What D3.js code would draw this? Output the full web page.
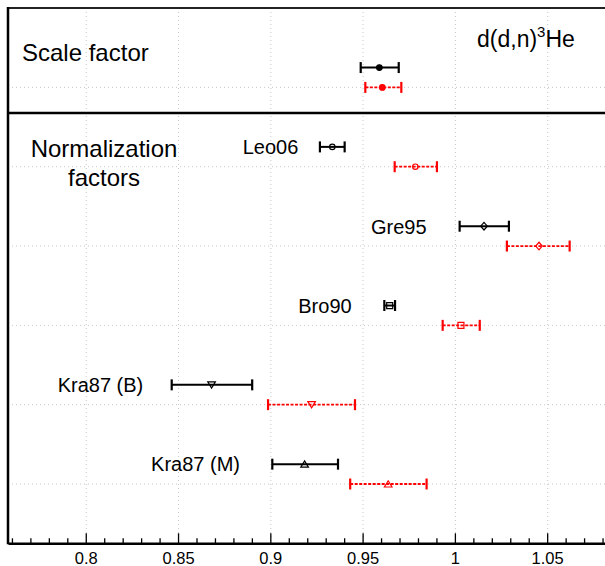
<!DOCTYPE html>
<html>
<head>
<meta charset="utf-8">
<script src="https://cdn.jsdelivr.net/npm/d3@7/dist/d3.min.js"></script>
<style>
  html, body { margin: 0; padding: 0; background: #fff; }
  svg { display: block; font-family: "Liberation Sans", Arial, Helvetica, sans-serif; }
</style>
</head>
<body>
<svg id="chart" width="605" height="566"></svg>
<script>
// ---------------- data ----------------
const categories = ["Leo06", "Gre95", "Bro90", "Kra87 (B)", "Kra87 (M)"];
const markerShapes = ["circle", "diamond", "square", "triangleDown", "triangleUp"];
const blackVal = [0.9333, 1.0155, 0.9644, 0.8679, 0.9183];
const blackLo  = [0.9266, 1.0023, 0.9615, 0.8463, 0.9008];
const blackHi  = [0.9400, 1.0290, 0.9673, 0.8899, 0.9364];
const redVal   = [0.9783, 1.0453, 1.0030, 0.9221, 0.9636];
const redLo    = [0.9671, 1.0279, 0.9931, 0.8985, 0.9430];
const redHi    = [0.9900, 1.0619, 1.0132, 0.9456, 0.9844];
// scale factor: [black, red]
const scaleVal = [0.9588, 0.9604];
const scaleLo  = [0.9487, 0.9512];
const scaleHi  = [0.9693, 0.9707];
// label anchor (right end) in x-data units
const labelEnd = [0.9149, 0.9844, 0.9438, 0.8309, 0.8833];
const majorTicks = [0.8, 0.85, 0.9, 0.95, 1, 1.05];
const tickLabels = ["0.8", "0.85", "0.9", "0.95", "1", "1.05"];

(function () {
// ---------------- layout ----------------
const svg = d3.select("#chart");
const pLeft = 8, pRight = 606, pTop = 8, pSep = 113, pBottom = 543.3;
const x = d3.scaleLinear().domain([0.7576, 1.0816]).range([pLeft, pRight]);
const y = d3.scaleLinear().domain([-1, 4]).range([87.4, 484]);
const offBlack = -0.25;

// grid lines
const grid = svg.append("g").attr("stroke", "#c8c8c8").attr("stroke-width", 1)
  .attr("stroke-dasharray", "1,3");
grid.selectAll("line.v").data(majorTicks).join("line")
  .attr("x1", d => x(d)).attr("x2", d => x(d))
  .attr("y1", pTop).attr("y2", pBottom);
const rowsY = [-1, 0, 1, 2, 3, 4];
grid.selectAll("line.h").data(rowsY).join("line")
  .attr("x1", pLeft).attr("x2", pRight)
  .attr("y1", d => y(d)).attr("y2", d => y(d));

// frame
svg.append("line").attr("x1", pLeft).attr("x2", 605).attr("y1", pTop).attr("y2", pTop)
  .attr("stroke", "#222").attr("stroke-width", 2);
svg.append("line").attr("x1", pLeft).attr("x2", pLeft).attr("y1", pTop - 1).attr("y2", pBottom + 1)
  .attr("stroke", "#000").attr("stroke-width", 2.5);
svg.append("line").attr("x1", pLeft).attr("x2", 605).attr("y1", pSep).attr("y2", pSep)
  .attr("stroke", "#000").attr("stroke-width", 2.5);

// x axis
const axis = d3.axisBottom(x).tickValues([]).tickSize(0);
const ag = svg.append("g").attr("transform", `translate(0,${pBottom})`).call(axis);
ag.select(".domain").attr("stroke", "#000").attr("stroke-width", 2.5);
const minor = d3.range(76, 109).map(v => v / 100);
ag.selectAll("line.mt").data(minor).join("line")
  .attr("x1", d => x(d)).attr("x2", d => x(d))
  .attr("y1", 0)
  .attr("y2", d => (Math.round(d * 100) % 5 === 0) ? -10 : -5)
  .attr("stroke", "#000").attr("stroke-width", 1.3);
ag.selectAll("text.tl").data(majorTicks).join("text")
  .attr("x", d => x(d)).attr("y", 21)
  .attr("text-anchor", "middle").attr("font-size", 16.5).attr("fill", "#000")
  .text((d, i) => tickLabels[i]);

// markers
function markerPath(shape) {
  switch (shape) {
    case "diamond": return "M0,-3.8L3.3,0L0,3.8L-3.3,0Z";
    case "square": return "M-3,-3H3V3H-3Z";
    case "triangleDown": return "M-3.8,-3L3.8,-3L0,3.2Z";
    case "triangleUp": return "M-3.8,3L3.8,3L0,-3.2Z";
    default: return null;
  }
}

function errorBar(g, v, lo, hi, yy, color, dashed) {
  g.append("line").attr("x1", x(lo)).attr("x2", x(hi)).attr("y1", yy).attr("y2", yy)
    .attr("stroke", color).attr("stroke-width", dashed ? 1.8 : 2)
    .attr("stroke-dasharray", dashed ? "3,1.5" : null);
  [lo, hi].forEach(e => g.append("line")
    .attr("x1", x(e)).attr("x2", x(e)).attr("y1", yy - 5.5).attr("y2", yy + 5.5)
    .attr("stroke", color).attr("stroke-width", 2.2));
}

function drawMarker(g, v, yy, color, shape, filled) {
  if (shape === "circle") {
    g.append("circle").attr("cx", x(v)).attr("cy", yy).attr("r", filled ? 2.8 : 2.7)
      .attr("fill", filled ? color : "none").attr("stroke", color).attr("stroke-width", 1.2);
  } else {
    g.append("path").attr("d", markerPath(shape))
      .attr("transform", `translate(${x(v)},${yy})`)
      .attr("fill", "none").attr("stroke", color).attr("stroke-width", 1.2);
  }
}

const marks = svg.append("g");
// scale factor
errorBar(marks, scaleVal[0], scaleLo[0], scaleHi[0], y(-1 + offBlack), "#000", false);
drawMarker(marks, scaleVal[0], y(-1 + offBlack), "#000", "circle", true);
errorBar(marks, scaleVal[1], scaleLo[1], scaleHi[1], y(-1), "#ff0000", true);
drawMarker(marks, scaleVal[1], y(-1), "#ff0000", "circle", true);

categories.forEach((c, i) => {
  const yb = y(i + offBlack), yr = y(i);
  errorBar(marks, blackVal[i], blackLo[i], blackHi[i], yb, "#000", false);
  drawMarker(marks, blackVal[i], yb, "#000", markerShapes[i], false);
  errorBar(marks, redVal[i], redLo[i], redHi[i], yr, "#ff0000", true);
  drawMarker(marks, redVal[i], yr, "#ff0000", markerShapes[i], false);
  svg.append("text").attr("x", x(labelEnd[i])).attr("y", yb + 7.3)
    .attr("text-anchor", "end").attr("font-size", 20).attr("fill", "#000").text(c);
});

// panel titles
svg.append("text").attr("x", 22).attr("y", 61).attr("font-size", 24).text("Scale factor");
svg.append("text").attr("x", 104).attr("y", 157).attr("text-anchor", "middle")
  .attr("font-size", 24).text("Normalization");
svg.append("text").attr("x", 104).attr("y", 186).attr("text-anchor", "middle")
  .attr("font-size", 24).text("factors");

const t = svg.append("text").attr("x", 477).attr("y", 47).attr("font-size", 23);
t.append("tspan").text("d(d,n)");
t.append("tspan").attr("font-size", 15).attr("dy", -10).text("3");
t.append("tspan").attr("dy", 10).text("He");
})();
</script>
</body>
</html>
